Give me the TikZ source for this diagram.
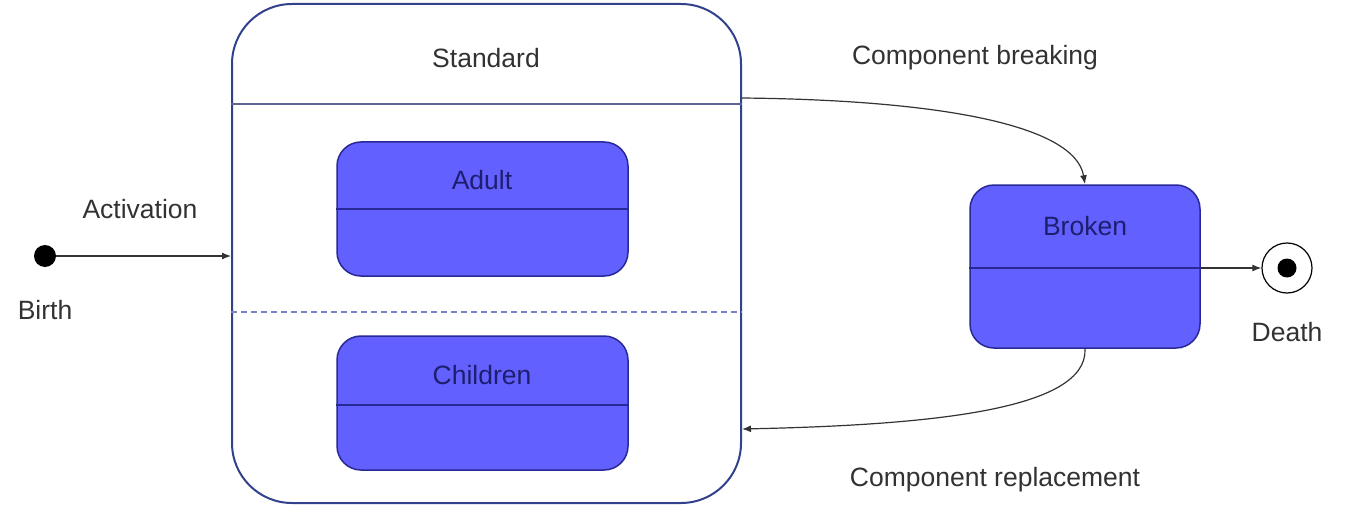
\documentclass[tikz,border=0pt]{standalone}
\usepackage{fontspec}
\setmainfont{Liberation Sans}
\usetikzlibrary{arrows.meta,calc}
\definecolor{stfill}{RGB}{98,96,255}
\definecolor{stborder}{RGB}{40,40,150}
\definecolor{sttext}{RGB}{30,30,110}
\definecolor{outerborder}{RGB}{50,65,140}
\definecolor{divline}{RGB}{90,100,150}
\definecolor{dashline}{RGB}{120,130,200}
\definecolor{lbltext}{RGB}{50,50,50}
\begin{document}
\begin{tikzpicture}[x=1pt,y=-1pt,font=\fontsize{26.5}{31}\selectfont]
\useasboundingbox (0,0) rectangle (1354,516);
\tikzset{
  statebox/.style={draw=stborder, fill=stfill, line width=1.5pt, rounded corners=24pt, inner sep=0pt},
  outerbox/.style={draw=outerborder, fill=white, line width=2pt, rounded corners=60pt, inner sep=0pt, minimum width=509pt, minimum height=499pt},
  statelbl/.style={text=sttext, inner sep=0pt},
  lbl/.style={text=lbltext, inner sep=0pt},
  conn/.style={draw=black!80, line width=1.2pt, -{Latex[length=9pt,width=7pt]}},
  divider/.style={draw=stborder, line width=1.2pt}
}
% outer composite state
\node[outerbox] (std) at (486.5,253.5) {};
\node[lbl] (stdlbl) at (486,58) {Standard};
\draw[draw=divline, line width=1.2pt] (std.west |- 0,104) coordinate (stdtopw) -- (std.east |- 0,104) coordinate (stdtope);
\draw[draw=dashline, line width=1.2pt, dash pattern=on 6pt off 4pt] (std.west |- 0,312) -- (std.east |- 0,312);
% inner states
\node[statebox, minimum width=291pt, minimum height=134pt] (adult) at (482.5,209) {};
\draw[divider] (adult.west |- 0,209) -- (adult.east |- 0,209);
\node[statelbl] (adultlbl) at (482,180) {Adult};
\node[statebox, minimum width=291pt, minimum height=134pt] (children) at (482.5,403) {};
\draw[divider] (children.west |- 0,405) -- (children.east |- 0,405);
\node[statelbl] (childlbl) at (482,375) {Children};
% broken state
\node[statebox, minimum width=230pt, minimum height=163pt] (broken) at (1085,266.5) {};
\draw[divider] (broken.west |- 0,268) -- (broken.east |- 0,268);
\node[statelbl] (brokenlbl) at (1085,226) {Broken};
% birth
\node[circle, fill=black, minimum size=22pt, inner sep=0pt] (birth) at (45,256) {};
\node[lbl] (birthlbl) at (45,310) {Birth};
% death
\node[circle, draw=black, line width=1.2pt, fill=white, minimum size=50pt, inner sep=0pt] (death) at (1287,268) {};
\node[circle, fill=black, minimum size=19pt, inner sep=0pt] (deathdot) at (death.center) {};
\node[lbl] (deathlbl) at (1287,332) {Death};
% transitions
\draw[conn] (birth) -- (birth -| std.west);
\node[lbl] (actlbl) at (140,209) {Activation};
\coordinate (brkstart) at (std.east |- 0,98);
\draw[conn] (brkstart) .. controls (940,100) and (1075,125) .. (broken.north);
\node[lbl] (brklbl) at (975,58) {Component breaking};
\coordinate (repend) at (std.east |- 0,429);
\draw[conn] (broken.south) .. controls (1088,410) and (930,425) .. (repend);
\node[lbl] (replbl) at (995,480) {Component replacement};
\draw[conn] (broken.east |- 0,268) -- (death.west);
\end{tikzpicture}
\end{document}
